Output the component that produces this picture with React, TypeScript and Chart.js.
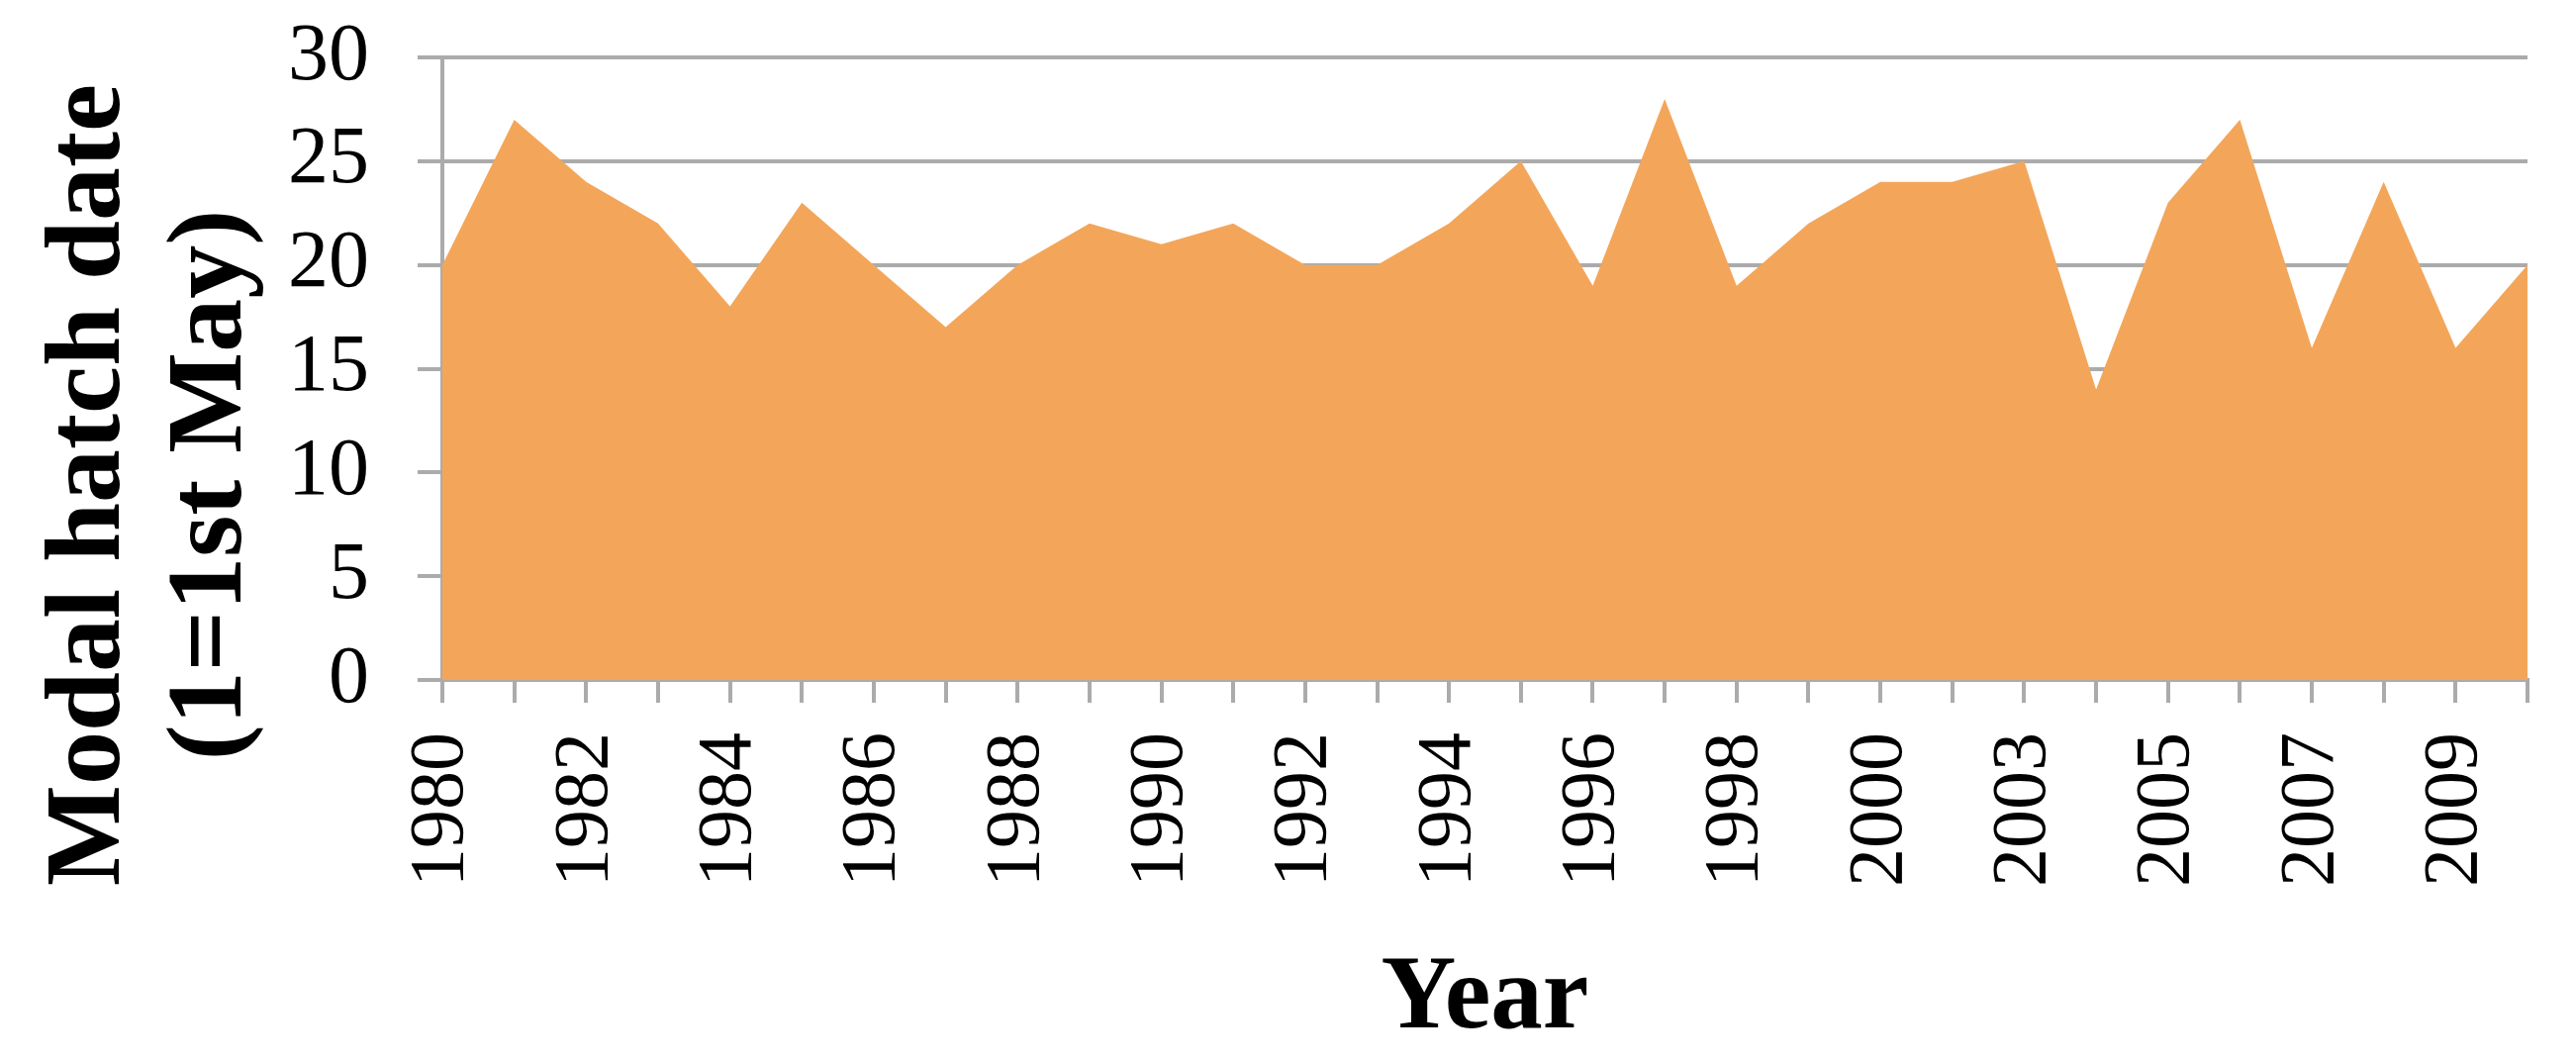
import React, { useEffect, useRef } from "react";
import { Chart, registerables } from "chart.js";

Chart.register(...registerables);

const years: string[] = [
  "1980", "1981", "1982", "1983", "1984", "1985", "1986", "1987", "1988", "1989",
  "1990", "1991", "1992", "1993", "1994", "1995", "1996", "1997", "1998", "1999",
  "2000", "2001", "2003", "2004", "2005", "2006", "2007", "2008", "2009", "2010",
];

const hatchDate: number[] = [
  20, 27, 24, 22, 18, 23, 20, 17, 20, 22,
  21, 22, 20, 20, 22, 25, 19, 28, 19, 22,
  24, 24, 25, 14, 23, 27, 16, 24, 16, 20,
];

const yTitleLines: string[] = ["Modal hatch date", "(1=1st May)"];
const xTitle = "Year";

const FILL = "#F3A65A";
const GRID = "#ABABAB";
const SERIF = "'Liberation Serif', 'Times New Roman', serif";

const W = 2603;
const H = 1075;

const titlePlugin = {
  id: "excelTitles",
  afterDraw(chart: any) {
    const ctx = chart.ctx as CanvasRenderingContext2D;
    const area = chart.chartArea;
    ctx.save();
    ctx.fillStyle = "#000";
    ctx.font = `bold 108px ${SERIF}`;
    ctx.textAlign = "center";
    ctx.textBaseline = "alphabetic";
    const baselines = [120, 243];
    yTitleLines.forEach((line, i) => {
      ctx.save();
      ctx.translate(baselines[i], 490);
      ctx.rotate(-Math.PI / 2);
      ctx.fillText(line, 0, 0);
      ctx.restore();
    });
    ctx.font = `bold 105px ${SERIF}`;
    ctx.textAlign = "center";
    ctx.fillText(xTitle, (area.left + area.right) / 2, 1038);
    ctx.restore();
  },
};

export default function App() {
  const ref = useRef<HTMLCanvasElement | null>(null);

  useEffect(() => {
    document.body.style.margin = "0";
    document.body.style.overflow = "hidden";
    const canvas = ref.current;
    if (!canvas) return;
    const chart = new Chart(canvas, {
      type: "line",
      data: {
        labels: years,
        datasets: [
          {
            data: hatchDate,
            fill: "origin",
            backgroundColor: FILL,
            borderColor: FILL,
            borderWidth: 0,
            pointRadius: 0,
            tension: 0,
          },
        ],
      },
      options: {
        animation: false,
        responsive: false,
        devicePixelRatio: 1,
        layout: { padding: { top: 58, right: 49, left: 0, bottom: 0 } },
        plugins: {
          legend: { display: false },
          tooltip: { enabled: false },
        },
        scales: {
          x: {
            type: "category",
            offset: false,
            grid: {
              drawOnChartArea: false,
              drawTicks: true,
              tickLength: 23,
              color: GRID,
              lineWidth: 4,
            },
            border: { display: true, color: GRID, width: 4 },
            ticks: {
              autoSkip: false,
              maxRotation: 90,
              minRotation: 90,
              padding: 30,
              color: "#000",
              font: { family: SERIF, size: 78 },
              callback: (_v: any, i: number) => (i % 2 === 0 ? years[i] : ""),
            },
            afterFit: (s: any) => {
              s.height = H - 687;
              s.paddingLeft = 0;
              s.paddingRight = 0;
              s.paddingTop = 0;
              s.paddingBottom = 0;
            },
          },
          y: {
            min: 0,
            max: 30,
            grid: {
              drawTicks: true,
              tickLength: 25,
              color: GRID,
              lineWidth: 4,
            },
            border: { display: true, color: GRID, width: 4 },
            ticks: {
              stepSize: 5,
              autoSkip: false,
              padding: 49,
              color: "#000",
              font: { family: SERIF, size: 82 },
            },
            afterFit: (s: any) => {
              s.width = 447;
              s.paddingLeft = 0;
              s.paddingRight = 0;
              s.paddingTop = 0;
              s.paddingBottom = 0;
            },
          },
        },
      },
      plugins: [titlePlugin],
    });
    return () => chart.destroy();
  }, []);

  return (
    <div style={{ width: W, height: H, background: "#fff" }}>
      <canvas ref={ref} width={W} height={H} style={{ display: "block" }} />
    </div>
  );
}
